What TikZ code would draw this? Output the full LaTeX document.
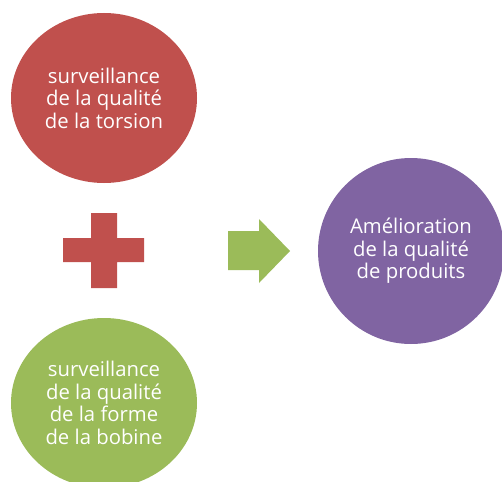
\documentclass[tikz,border=0pt]{standalone}
\usepackage{fontspec}
\setmainfont{Open Sans}
\usetikzlibrary{shapes.geometric}
\definecolor{redc}{HTML}{C0504D}
\definecolor{greenc}{HTML}{9BBB59}
\definecolor{purplec}{HTML}{8064A2}
\tikzset{
  bubble/.style={ellipse, inner sep=0pt, minimum width=186pt, minimum height=170pt,
    text=white, align=center, font=\fontsize{20.3}{22.5}\selectfont}
}
\begin{document}
\begin{tikzpicture}[x=1pt,y=-1pt]
\useasboundingbox (0,0) rectangle (502,481);
\clip (0,0) rectangle (502,481);
\node[bubble, fill=redc] (torsion) at (104,98) {surveillance\\de la qualité\\de la torsion};
\node[bubble, fill=greenc] (bobine) at (104,403) {surveillance\\de la qualité\\de la forme\\de la bobine};
\node[bubble, fill=purplec, minimum width=186pt, minimum height=186pt] (produits) at (411,251) {Amélioration\\de la qualité\\de produits};
% plus sign
\fill[redc] (91,213) -- (117,213) -- (117,238) -- (144,238) -- (144,262) -- (117,262)
  -- (117,288) -- (91,288) -- (91,262) -- (63,262) -- (63,238) -- (91,238) -- cycle;
% arrow
\fill[greenc] (228,231) -- (259,231) -- (259,219) -- (290,251) -- (259,283) -- (259,270) -- (228,270) -- cycle;
\end{tikzpicture}
\end{document}
